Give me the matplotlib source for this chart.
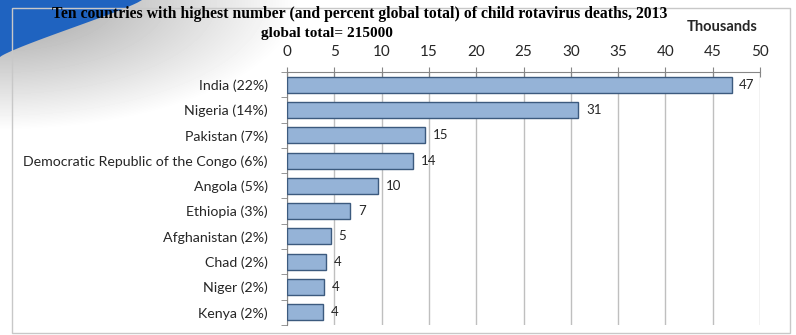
import numpy as np
import matplotlib.pyplot as plt
from matplotlib.patches import Polygon, Rectangle

# data (thousands of deaths)
countries = ["India (22%)", "Nigeria (14%)", "Pakistan (7%)",
             "Democratic Republic of the Congo (6%)", "Angola (5%)",
             "Ethiopia (3%)", "Afghanistan (2%)", "Chad (2%)",
             "Niger (2%)", "Kenya (2%)"]
deaths = [47.0, 30.8, 14.6, 13.3, 9.6, 6.7, 4.6, 4.1, 3.9, 3.8]
value_labels = ["47", "31", "15", "14", "10", "7", "5", "4", "4", "4"]
x_ticks = [0, 5, 10, 15, 20, 25, 30, 35, 40, 45, 50]

fig = plt.figure(figsize=(7.96, 3.35), dpi=100)

# background: soft grey shading + blue swoosh in the corner
bg = fig.add_axes([0, 0, 1, 1])
bg.set_xlim(0, 796)
bg.set_ylim(335, 0)
bg.axis("off")
yy, xx = np.mgrid[0:335, 0:796]
shade = np.clip(1 - np.hypot(xx / 300.0, yy / 130.0), 0, 1)
img = 1 - 0.38 * shade
bg.imshow(img, cmap="gray", vmin=0, vmax=1, extent=(0, 796, 335, 0), aspect="auto")
t = np.linspace(0, 1, 40)
cx = 142 * (1 - t) ** 1.2
cy = 57 * t ** 0.85
swoosh = Polygon(np.column_stack([np.r_[0, cx], np.r_[0, cy]]), closed=True,
                 color="#1f63c0", lw=0)
bg.add_patch(swoosh)
bg.add_patch(Rectangle((12, 8), 778, 325, fill=False, ec="#c8c8c8", lw=1))

fig.text(0.452, 0.957, "Ten countries with highest number (and percent global total) of child rotavirus deaths, 2013",
         ha="center", va="center", fontsize=11.3, fontweight="bold", family="Liberation Serif")
fig.text(0.411, 0.899, "global total= 215000", ha="center", va="center",
         fontsize=11, fontweight="bold", family="Liberation Serif")
fig.text(0.907, 0.918, "Thousands", ha="center", va="center",
         fontsize=10.5, fontweight="bold", family="Lato", color="#262626")

ax = fig.add_axes([0.3606, 0.030, 0.5942, 0.755])
ax.patch.set_alpha(0)
y = np.arange(len(countries))
ax.barh(y, deaths, height=0.63, color="#95b3d7", edgecolor="#3c5a7e", lw=1, zorder=3)
for yi, v, lab in zip(y, deaths, value_labels):
    ax.text(v + 0.8, yi, lab, va="center", ha="left", fontsize=9.5,
            family="Lato", color="#262626", zorder=4)

ax.set_xlim(0, 50)
ax.set_ylim(9.5, -0.5)
ax.set_xticks(x_ticks)
ax.xaxis.tick_top()
ax.tick_params(axis="x", direction="inout", length=7, color="#868686",
               labelsize=11, labelcolor="#262626", pad=6)
for lbl in ax.get_xticklabels():
    lbl.set_family("Lato")
ax.set_yticks(y)
ax.set_yticklabels(countries, family="Lato", fontsize=10.2, color="#262626")
ax.set_yticks(np.arange(-0.5, 10, 1), minor=True)
ax.tick_params(axis="y", which="major", length=0, pad=14)
ax.tick_params(axis="y", which="minor", length=4, color="#868686", direction="out")
ax.grid(axis="x", color="#bfbfbf", lw=1, zorder=0)
for s in ["right", "bottom"]:
    ax.spines[s].set_visible(False)
for s in ["left", "top"]:
    ax.spines[s].set_color("#868686")

fig.savefig("out.png", dpi=100)
